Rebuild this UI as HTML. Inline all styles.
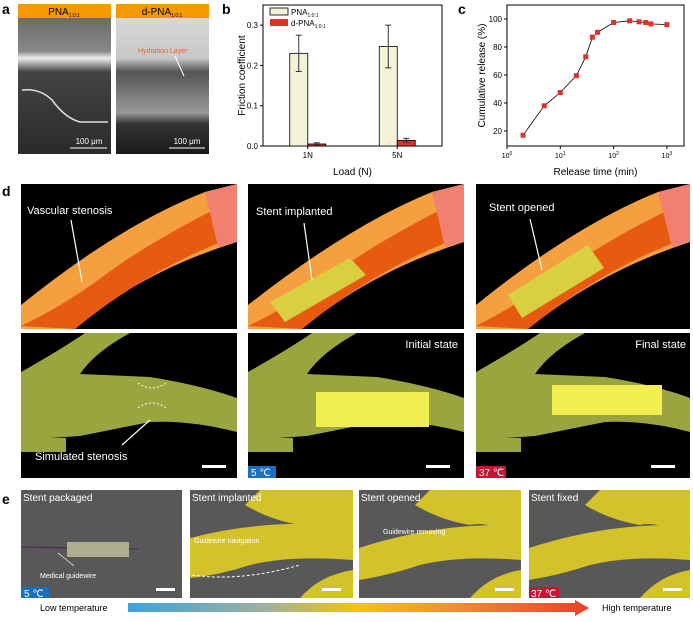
<!DOCTYPE html>
<html><head><meta charset="utf-8"><style>
body{margin:0;background:#fff}
svg{display:block;font-family:"Liberation Sans",Arial,sans-serif}
</style></head><body>
<svg width="693" height="622" viewBox="0 0 693 622">
<defs>
<linearGradient id="tg" x1="0" x2="1"><stop offset="0" stop-color="#3aa3e0"/><stop offset="0.3" stop-color="#9fb0a0"/><stop offset="0.5" stop-color="#f5c500"/><stop offset="0.7" stop-color="#f29030"/><stop offset="1" stop-color="#e8402a"/></linearGradient>
<linearGradient id="sem1" x1="0" y1="0" x2="0" y2="1"><stop offset="0" stop-color="#6a6a6a"/><stop offset="0.25" stop-color="#888"/><stop offset="0.3" stop-color="#eee"/><stop offset="0.4" stop-color="#444"/><stop offset="1" stop-color="#2a2a2a"/></linearGradient>
<linearGradient id="sem2" x1="0" y1="0" x2="0" y2="1"><stop offset="0" stop-color="#d8d8d8"/><stop offset="0.3" stop-color="#c8c8c8"/><stop offset="0.4" stop-color="#555"/><stop offset="0.7" stop-color="#999"/><stop offset="0.78" stop-color="#333"/><stop offset="1" stop-color="#1a1a1a"/></linearGradient>
</defs>

<!-- Panel a -->
<text x="2" y="14" font-size="14" font-weight="bold">a</text>
<g>
<rect x="18" y="17" width="93" height="137" fill="url(#sem1)"/>
<path d="M22 90 Q40 88 52 100 Q65 118 80 122 L108 122" stroke="#ddd" stroke-width="1.5" fill="none"/>
<rect x="18" y="4" width="93" height="14" fill="#f39a00"/>
<text x="64" y="15" font-size="10" text-anchor="middle">PNA<tspan font-size="5" dy="2">1:0:1</tspan></text>
<line x1="70" y1="148" x2="107" y2="148" stroke="#fff" stroke-width="1"/>
<text x="89" y="144" font-size="8" fill="#fff" text-anchor="middle">100 μm</text>
</g>
<g>
<rect x="116" y="17" width="93" height="137" fill="url(#sem2)"/>
<rect x="116" y="4" width="93" height="14" fill="#f39a00"/>
<text x="162" y="15" font-size="10" text-anchor="middle">d-PNA<tspan font-size="5" dy="2">1:0:1</tspan></text>
<text x="138" y="53" font-size="7" fill="#e8602a">Hydration Layer</text>
<line x1="175" y1="56" x2="184" y2="76" stroke="#fff" stroke-width="1"/>
<line x1="169" y1="148" x2="205" y2="148" stroke="#fff" stroke-width="1"/>
<text x="187" y="144" font-size="8" fill="#fff" text-anchor="middle">100 μm</text>
</g>

<!-- Panel b -->
<text x="222" y="14" font-size="14" font-weight="bold">b</text>
<g id="chartB"></g>
<!-- Panel c -->
<text x="458" y="14" font-size="14" font-weight="bold">c</text>
<g id="chartC"></g>

<!-- Panel d -->
<text x="2" y="196" font-size="14" font-weight="bold">d</text>
<g>
<rect x="21" y="184" width="216" height="145" fill="#000"/>
<path d="M21 305 Q120 225 205 192 L237 184 L237 242 Q140 272 75 329 L21 329Z" fill="#f4a040"/>
<path d="M21 326 Q65 305 105 275 Q145 245 217 208 L221 242 Q145 272 75 329Z" fill="#e85a10"/>
<path d="M205 192 L237 184 L237 242 L218 247Z" fill="#f08070"/>
<text x="27" y="214" font-size="11" fill="#fff">Vascular stenosis</text>
<line x1="71" y1="220" x2="82" y2="282" stroke="#fff" stroke-width="1.2"/>
</g>
<g>
<rect x="248" y="184" width="216" height="145" fill="#000"/>
<path d="M248 305 Q350 225 432 192 L464 184 L464 242 Q370 272 302 329 L248 329Z" fill="#f4a040"/>
<path d="M248 326 Q292 305 332 275 Q372 245 444 208 L448 242 Q372 272 302 329Z" fill="#e85a10"/>
<path d="M432 192 L464 184 L464 242 L445 247Z" fill="#f08070"/>
<path d="M270 302 L350 258 L366 275 L285 322Z" fill="#d8d040"/>
<text x="256" y="215" font-size="11" fill="#fff">Stent implanted</text>
<line x1="304" y1="223" x2="312" y2="280" stroke="#fff" stroke-width="1.2"/>
</g>
<g>
<rect x="476" y="184" width="214" height="145" fill="#000"/>
<path d="M476 305 Q575 225 658 192 L690 184 L690 242 Q598 272 528 329 L476 329Z" fill="#f4a040"/>
<path d="M476 326 Q518 305 558 275 Q598 245 672 208 L676 242 Q598 272 528 329Z" fill="#e85a10"/>
<path d="M658 192 L690 184 L690 242 L672 247Z" fill="#f08070"/>
<path d="M508 295 L588 245 L604 268 L522 318Z" fill="#d8d040"/>
<text x="489" y="211" font-size="11" fill="#fff">Stent opened</text>
<line x1="530" y1="219" x2="542" y2="270" stroke="#fff" stroke-width="1.2"/>
</g>
<g>
<rect x="21" y="333" width="216" height="145" fill="#000"/>
<path d="M21 372 Q60 350 85 333 L130 333 Q95 352 80 374 L150 377 Q200 385 237 398 L237 432 Q190 420 150 422 L80 436 L21 440Z" fill="#9aa540"/>
<rect x="21" y="438" width="45" height="14" fill="#9aa540"/>
<path d="M138 383 Q152 393 166 383 M138 408 Q152 398 166 408" stroke="#fff" stroke-dasharray="2,2" fill="none"/>
<text x="35" y="460" font-size="11" fill="#fff">Simulated stenosis</text>
<line x1="122" y1="445" x2="150" y2="420" stroke="#fff" stroke-width="1.2"/>
<rect x="202" y="465" width="24" height="3" fill="#fff"/>
</g>
<g>
<rect x="248" y="333" width="216" height="145" fill="#000"/>
<path d="M248 372 Q287 350 312 333 L357 333 Q322 352 307 374 L377 377 Q427 385 464 398 L464 432 Q417 420 377 422 L307 436 L248 440Z" fill="#9aa540"/>
<rect x="248" y="438" width="45" height="14" fill="#9aa540"/>
<rect x="316" y="392" width="113" height="35" fill="#f0ee50"/>
<text x="458" y="348" font-size="11" fill="#fff" text-anchor="end">Initial state</text>
<rect x="248" y="466" width="28" height="12" fill="#1a70c0"/>
<text x="251" y="476" font-size="10" fill="#fff">5 ℃</text>
<rect x="426" y="465" width="24" height="3" fill="#fff"/>
</g>
<g>
<rect x="476" y="333" width="214" height="145" fill="#000"/>
<path d="M476 372 Q515 350 540 333 L585 333 Q550 352 535 374 L605 377 Q655 385 690 398 L690 432 Q645 420 605 422 L535 436 L476 440Z" fill="#9aa540"/>
<rect x="476" y="438" width="45" height="14" fill="#9aa540"/>
<rect x="552" y="385" width="110" height="30" fill="#f0ee50"/>
<text x="686" y="348" font-size="11" fill="#fff" text-anchor="end">Final state</text>
<rect x="476" y="466" width="30" height="12" fill="#c01830"/>
<text x="479" y="476" font-size="10" fill="#fff">37 ℃</text>
<rect x="651" y="465" width="24" height="3" fill="#fff"/>
</g>

<!-- Panel e -->
<text x="2" y="504" font-size="14" font-weight="bold">e</text>
<g>
<rect x="21" y="490" width="161" height="108" fill="#585858"/>
<path d="M22 547 L138 549" stroke="#503058" stroke-width="1.5"/>
<rect x="67" y="542" width="62" height="15" fill="#b0ae90"/>
<text x="23" y="501" font-size="10" fill="#fff">Stent packaged</text>
<text x="40" y="578" font-size="7" fill="#fff">Medical guidewire</text>
<line x1="58" y1="553" x2="74" y2="566" stroke="#fff" stroke-width="0.7"/>
<rect x="21" y="587" width="28" height="11" fill="#1a70c0"/>
<text x="24" y="597" font-size="10" fill="#fff">5 ℃</text>
<rect x="156" y="588" width="19" height="3" fill="#fff"/>
</g>
<g>
<rect x="190" y="490" width="163" height="108" fill="#585858"/>
<path d="M260 490 L353 490 L353 540 Q320 520 300 525 Q270 520 245 505Z" fill="#d4c22a"/>
<path d="M190 538 Q260 520 330 525 L353 540 L353 560 Q290 555 250 565 Q220 575 190 578Z" fill="#d4c22a"/>
<path d="M300 598 Q320 575 353 570 L353 598Z" fill="#d4c22a"/>
<text x="192" y="501" font-size="10" fill="#fff">Stent implanted</text>
<text x="194" y="543" font-size="7" fill="#fff">Guidewire navigation</text>
<path d="M192 575 Q240 582 300 565" stroke="#fff" stroke-dasharray="3,2" fill="none"/>
<rect x="322" y="588" width="19" height="3" fill="#fff"/>
</g>
<g>
<rect x="359" y="490" width="162" height="108" fill="#585858"/>
<path d="M430 490 L521 490 L521 540 Q490 520 470 525 Q440 520 415 505Z" fill="#d4c22a"/>
<path d="M359 548 Q430 525 500 525 L521 540 L521 560 Q460 555 420 565 Q390 575 359 580Z" fill="#d4c22a"/>
<path d="M470 598 Q490 575 521 570 L521 598Z" fill="#d4c22a"/>
<text x="361" y="501" font-size="10" fill="#fff">Stent opened</text>
<text x="383" y="534" font-size="7" fill="#fff">Guidewire removing</text>
<rect x="495" y="588" width="19" height="3" fill="#fff"/>
</g>
<g>
<rect x="529" y="490" width="161" height="108" fill="#585858"/>
<path d="M600 490 L690 490 L690 540 Q660 520 640 525 Q610 520 585 505Z" fill="#d4c22a"/>
<path d="M529 548 Q600 525 670 525 L690 540 L690 560 Q630 555 590 565 Q560 575 529 580Z" fill="#d4c22a"/>
<path d="M640 598 Q660 575 690 570 L690 598Z" fill="#d4c22a"/>
<text x="531" y="501" font-size="10" fill="#fff">Stent fixed</text>
<rect x="529" y="587" width="30" height="11" fill="#c01830"/>
<text x="531" y="597" font-size="10" fill="#fff">37 ℃</text>
<rect x="663" y="588" width="19" height="3" fill="#fff"/>
</g>
<text x="40" y="611" font-size="9">Low temperature</text>
<path d="M128 603 L575 603 L575 600 L589 608 L575 616 L575 612 L128 612Z" fill="url(#tg)"/>
<text x="602" y="611" font-size="9">High temperature</text>
</svg>
<script>
var NS="http://www.w3.org/2000/svg";
function mk(p,t,a){var e=document.createElementNS(NS,t);for(var k in a)e.setAttribute(k,a[k]);p.appendChild(e);return e;}
// Chart b data
var loadCats=["1N","5N"];
var pnaVals=[0.23,0.247];
var pnaErr=[0.045,0.053];
var dpnaVals=[0.005,0.014];
var dpnaErr=[0.003,0.005];
var bTicks=["0.0","0.1","0.2","0.3"];
// Chart c data
var relTimes=[2,5,10,20,30,40,50,100,200,300,400,500,1000];
var relVals=[17,38,47.5,59.5,73,87,90.5,97.5,98.7,98,97.5,96.5,96];
var cYTicks=["20","40","60","80","100"];
var cXExp=["0","1","2","3"];

(function(){
var g=document.getElementById("chartB");
var L=263,R=442,T=5,B=146;
function y(v){return B-(v/0.35)*(B-T);}
function xc(i){return L+(i+0.5)*(R-L)/loadCats.length;}
var f=mk(g,"rect",{x:L,y:T,width:R-L,height:B-T,fill:"none",stroke:"#000","stroke-width":1});


bTicks.forEach(function(t){var v=parseFloat(t);var yy=y(v);
mk(g,"line",{x1:L,y1:yy,x2:L-3,y2:yy,stroke:"#000"});
var tx=mk(g,"text",{x:L-5,y:yy+3,"font-size":8,"text-anchor":"end"});tx.textContent=t;

});
var bw=18;
loadCats.forEach(function(c,i){var cx=xc(i);
var r1=mk(g,"rect",{x:cx-bw,y:y(pnaVals[i]),width:bw,height:B-y(pnaVals[i]),fill:"#f5f0d8",stroke:"#000","stroke-width":0.8});


var r2=mk(g,"rect",{x:cx,y:y(dpnaVals[i]),width:bw,height:B-y(dpnaVals[i]),fill:"#e0302a",stroke:"#000","stroke-width":0.8});


[[cx-bw/2,pnaVals[i],pnaErr[i]],[cx+bw/2,dpnaVals[i],dpnaErr[i]]].forEach(function(e){
mk(g,"line",{x1:e[0],x2:e[0],y1:y(e[1]-e[2]),y2:y(e[1]+e[2]),stroke:"#333"});
mk(g,"line",{x1:e[0]-3,x2:e[0]+3,y1:y(e[1]-e[2]),y2:y(e[1]-e[2]),stroke:"#333"});
mk(g,"line",{x1:e[0]-3,x2:e[0]+3,y1:y(e[1]+e[2]),y2:y(e[1]+e[2]),stroke:"#333"});});
mk(g,"line",{x1:cx,x2:cx,y1:B,y2:B+3,stroke:"#000"});
var tx=mk(g,"text",{x:cx,y:B+12,"font-size":8,"text-anchor":"middle"});tx.textContent=c;

});
var xt=mk(g,"text",{x:(L+R)/2,y:175,"font-size":10,"text-anchor":"middle"});xt.textContent="Load (N)";


var yt=mk(g,"text",{x:0,y:0,"font-size":10,"text-anchor":"middle",transform:"translate(245,"+((T+B)/2)+") rotate(-90)"});yt.textContent="Friction coefficient";


var l1=mk(g,"rect",{x:270,y:8,width:18,height:7,fill:"#f5f0d8",stroke:"#000","stroke-width":0.8});


var lt1=mk(g,"text",{x:291,y:15,"font-size":8});lt1.innerHTML='PNA<tspan font-size="5" dy="2">1:0:1</tspan>';
var l2=mk(g,"rect",{x:270,y:19,width:18,height:7,fill:"#e0302a"});


var lt2=mk(g,"text",{x:291,y:26,"font-size":8});lt2.innerHTML='d-PNA<tspan font-size="5" dy="2">1:0:1</tspan>';
})();

(function(){
var g=document.getElementById("chartC");
var L=507,R=684,T=5,B=146;
function x(t){return 507+Math.log10(t)*53.3;}
function y(v){return 131-(v-20)*1.4;}
var f=mk(g,"rect",{x:L,y:T,width:R-L,height:B-T,fill:"none",stroke:"#000","stroke-width":1});


cYTicks.forEach(function(t){var yy=y(parseFloat(t));
mk(g,"line",{x1:L,y1:yy,x2:L-3,y2:yy,stroke:"#000"});
var tx=mk(g,"text",{x:L-5,y:yy+3,"font-size":8,"text-anchor":"end"});tx.textContent=t;

});
cXExp.forEach(function(e){var xx=x(Math.pow(10,parseFloat(e)));
mk(g,"line",{x1:xx,y1:B,x2:xx,y2:B+3,stroke:"#000"});
var tx=mk(g,"text",{x:xx,y:B+12,"font-size":7,"text-anchor":"middle"});tx.innerHTML='10<tspan font-size="5" dy="-3">'+e+'</tspan>';

});
var pts=relTimes.map(function(t,i){return x(t)+","+y(relVals[i]);}).join(" ");
var pl=mk(g,"polyline",{points:pts,fill:"none",stroke:"#000","stroke-width":0.8});


relTimes.forEach(function(t,i){var r=mk(g,"rect",{x:x(t)-2.5,y:y(relVals[i])-2.5,width:5,height:5,fill:"#e0302a"});

});
var xt=mk(g,"text",{x:(L+R)/2,y:175,"font-size":10,"text-anchor":"middle"});xt.textContent="Release time (min)";


var yt=mk(g,"text",{x:0,y:0,"font-size":10,"text-anchor":"middle",transform:"translate(485,"+((T+B)/2)+") rotate(-90)"});yt.textContent="Cumulative release (%)";


})();
</script>
</body></html>
